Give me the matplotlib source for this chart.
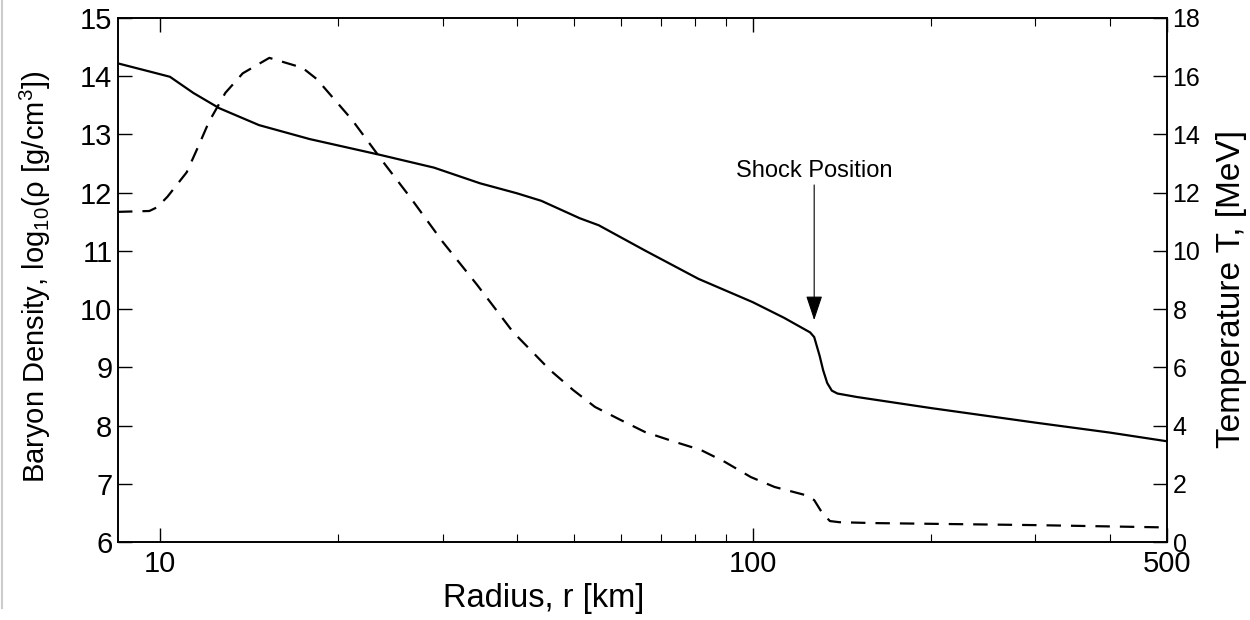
"""
Radial profile of density and temperature behind the stalled shock.
"""
import matplotlib
matplotlib.use("Agg")
import matplotlib.pyplot as plt
from matplotlib.lines import Line2D
from matplotlib.ticker import FixedLocator, NullFormatter

plt.rcParams["font.family"] = ["Liberation Sans", "DejaVu Sans"]
plt.rcParams["mathtext.fontset"] = "custom"
plt.rcParams["mathtext.rm"] = "Liberation Sans"
plt.rcParams["mathtext.it"] = "Liberation Sans:italic"

# baryon density profile, log10(rho [g/cm^3])
r_rho = [8.5, 9.7, 10.4, 11.4, 12.6, 14.7, 17.9, 23.5, 29.0, 34.7, 40.0,
         44.0, 51.1, 55.0, 66.0, 81.0, 100.0, 113.0, 125.0, 127.0, 129.7,
         131.5, 133.6, 136.0, 139.0, 150.0, 200.0, 300.0, 400.0, 500.0]
log_rho = [14.22, 14.07, 13.99, 13.71, 13.45, 13.16, 12.92, 12.65, 12.43,
           12.16, 11.99, 11.86, 11.56, 11.44, 11.0, 10.52, 10.12, 9.85, 9.6,
           9.52, 9.2, 8.95, 8.73, 8.6, 8.55, 8.49, 8.3, 8.05, 7.88, 7.73]

# temperature profile [MeV]
r_temp = [8.5, 9.6, 9.9, 10.3, 11.1, 11.6, 12.1, 12.9, 13.8, 15.3, 17.4,
          18.4, 21.1, 24.0, 26.4, 30.0, 34.3, 39.4, 45.5, 49.8, 54.2,
          59.9, 65.8, 73.9, 81.8, 89.8, 99.3, 108.9, 122.3, 127.0, 131.0,
          135.0, 140.0, 160.0, 300.0, 500.0]
temp = [11.34, 11.37, 11.5, 11.86, 12.7, 13.57, 14.43, 15.43, 16.1, 16.63,
        16.29, 15.9, 14.5, 12.96, 11.86, 10.31, 8.83, 7.22, 5.91, 5.22,
        4.64, 4.19, 3.78, 3.44, 3.16, 2.75, 2.23, 1.89, 1.62, 1.44, 1.0,
        0.72, 0.68, 0.65, 0.58, 0.5]

x_ticks = [10, 100, 500]
x_ticklabels = ["10", "100", "500"]
x_minor = [20, 30, 40, 50, 60, 70, 80, 90, 200, 300, 400]

shock_r, shock_rho = 127.0, 9.81
label_rho = 12.18

fig = plt.figure(figsize=(12.5, 6.2), dpi=100)
ax = fig.add_axes([0.0944, 0.1258, 0.8392, 0.8452])

ax.plot(r_rho, log_rho, color="black", lw=1.6)
ax.set_xscale("log")
ax.set_xlim(8.5, 500)
ax.set_ylim(6, 15)
ax.set_yticks(range(6, 16))
ax.xaxis.set_major_locator(FixedLocator(x_ticks))
ax.set_xticklabels(x_ticklabels)
ax.xaxis.set_minor_locator(FixedLocator(x_minor))
ax.xaxis.set_minor_formatter(NullFormatter())
ax.tick_params(which="major", direction="in", length=10, width=1, labelsize=21,
               top=True, pad=6)
ax.tick_params(which="minor", direction="in", length=6, width=0.8, top=True)
ax.tick_params(axis="y", right=False, pad=4)
ax.set_xlabel("Radius, r [km]", fontsize=23.5)
ax.xaxis.set_label_coords(0.406, -0.078)
ax.set_ylabel("Baryon Density, log$_{10}$(ρ [g/cm$^{3}$])", fontsize=21)
ax.yaxis.set_label_coords(-0.062, 0.506)

ax2 = ax.twinx()
ax2.plot(r_temp, temp, color="black", lw=1.6, dashes=(6.5, 4.5))
ax2.set_ylim(0, 18)
ax2.set_yticks(range(0, 19, 2))
ax2.tick_params(direction="in", length=10, width=1, labelsize=18, pad=4)
ax2.set_ylabel("Temperature T, [MeV]", fontsize=24)
ax2.yaxis.set_label_coords(1.047, 0.483)

for a in (ax, ax2):
    for s in a.spines.values():
        s.set_linewidth(1.2)

ax.annotate("Shock Position", xy=(shock_r, shock_rho), xytext=(shock_r, label_rho),
            ha="center", va="bottom", fontsize=17,
            arrowprops=dict(arrowstyle="-|>,head_length=0.9,head_width=0.3",
                            color="black", lw=0.8, shrinkA=0, shrinkB=0))

# thin frame edge on the left of the canvas
fig.add_artist(Line2D([0.0015, 0.0015], [0.02, 1.0], color="#cccccc", lw=1.5))

fig.savefig("out.png", dpi=100)
